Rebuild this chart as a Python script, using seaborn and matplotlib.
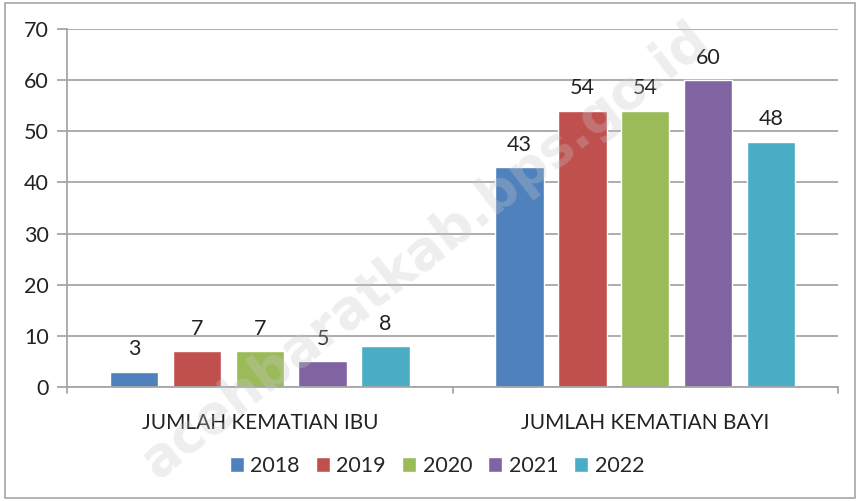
import matplotlib
matplotlib.use("Agg")
import matplotlib.pyplot as plt
import seaborn as sns
import pandas as pd
from matplotlib.patches import Rectangle

categories = ["JUMLAH KEMATIAN IBU", "JUMLAH KEMATIAN BAYI"]
years = ["2018", "2019", "2020", "2021", "2022"]
ibu = [3, 7, 7, 5, 8]
bayi = [43, 54, 54, 60, 48]
colors = ["#4F81BD", "#C0504D", "#9BBB59", "#8064A2", "#4BACC6"]
yticks = [0, 10, 20, 30, 40, 50, 60, 70]

rows = []
for y, a, b in zip(years, ibu, bayi):
    rows.append({"cat": categories[0], "year": y, "val": a})
    rows.append({"cat": categories[1], "year": y, "val": b})
df = pd.DataFrame(rows)

sns.set_theme(style="white")
plt.rcParams["font.family"] = ["Lato", "DejaVu Sans"]

fig = plt.figure(figsize=(8.59, 5.01), dpi=100)
ax = fig.add_axes([67/859, 1-387/501, (838-67)/859, (387-29)/501])

sns.barplot(data=df, x="cat", y="val", hue="year", order=categories,
            hue_order=years, palette=colors, width=0.815, gap=0.23,
            saturation=1, ax=ax, legend=True, errorbar=None)

for c in ax.containers:
    ax.bar_label(c, padding=9, fontsize=15.5, color="#222222")

ax.set_ylim(0, 70)
ax.set_xlim(-0.5, 1.5)
ax.set_yticks(yticks)
ax.yaxis.grid(True, color="#a6a6a6", linewidth=1.3)
ax.set_axisbelow(True)
for s in ["top", "right"]:
    ax.spines[s].set_visible(False)
ax.spines["left"].set_color("#a6a6a6")
ax.spines["bottom"].set_color("#a6a6a6")
ax.spines["left"].set_linewidth(1.3)
ax.spines["bottom"].set_linewidth(1.3)
ax.set_xlabel("")
ax.set_ylabel("")
ax.tick_params(axis="y", left=True, length=7, width=1.3, color="#a6a6a6",
               labelsize=15.5, labelcolor="#222222", pad=6)
ax.set_xticks([0, 1])
ax.set_xticklabels(categories)
ax.tick_params(axis="x", bottom=False, labelsize=15, labelcolor="#222222", pad=13)
for xb in [-0.5, 0.5, 1.5]:
    ax.plot([xb, xb], [0, -1.1], color="#a6a6a6", lw=1.3, clip_on=False)

handles, labels = ax.get_legend_handles_labels()
ax.legend(handles, labels, loc="center", bbox_to_anchor=(437/859, 1-466/501),
          bbox_transform=fig.transFigure, ncol=5, frameon=False, fontsize=15.5,
          handlelength=0.65, handleheight=0.65, handletextpad=0.3, columnspacing=0.75)

fig.text(0.495, 0.50, "acehbaratkab.bps.go.id", rotation=38, fontsize=38,
         fontweight="bold", color="#c8c8c8", alpha=0.3, ha="center", va="center",
         family=["DejaVu Sans"], zorder=10)

fig.patches.append(Rectangle((5/859, 3/501), 850/859, 495/501, transform=fig.transFigure,
                             fill=False, edgecolor="#a6a6a6", linewidth=1.2))

fig.savefig("out.png", dpi=100)
